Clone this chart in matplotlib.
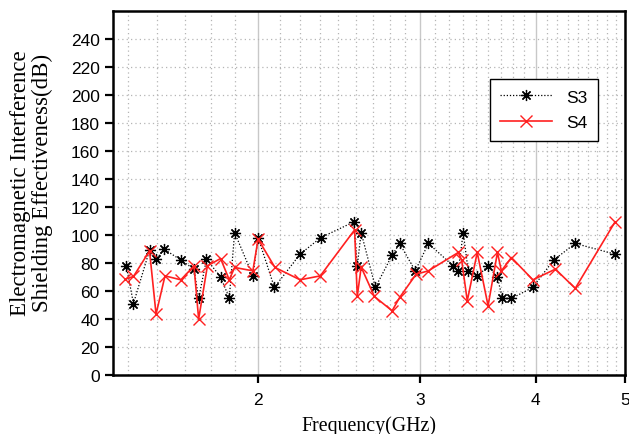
import matplotlib
matplotlib.use("Agg")
import matplotlib.pyplot as plt
from matplotlib.ticker import FixedLocator, NullFormatter, FixedFormatter

# S3 data (frequency GHz, SE dB)
s3_freq = [1.439, 1.465, 1.525, 1.550, 1.582, 1.649, 1.704, 1.724, 1.758, 1.821,
           1.861, 1.886, 1.974, 2.000, 2.083, 2.221, 2.339, 2.540, 2.562, 2.587,
           2.681, 2.795, 2.848, 2.961, 3.060, 3.256, 3.297, 3.338, 3.380, 3.457,
           3.552, 3.636, 3.681, 3.765, 3.972, 4.185, 4.416, 4.877]
s3_se = [77.8, 51.0, 89.0, 82.6, 89.7, 82.0, 75.5, 54.6, 82.6, 70.0,
         54.8, 101.6, 70.7, 98.0, 62.5, 86.2, 98.0, 109.2, 77.8, 101.6,
         62.5, 85.5, 93.8, 74.3, 93.8, 77.8, 74.3, 101.6, 74.3, 70.3,
         77.8, 69.6, 54.6, 54.6, 62.5, 82.1, 93.8, 86.2]

# S4 data
s4_freq = [1.436, 1.465, 1.525, 1.550, 1.585, 1.649, 1.704, 1.724, 1.762, 1.821,
           1.861, 1.886, 1.974, 2.000, 2.086, 2.221, 2.336, 2.545, 2.562, 2.587,
           2.674, 2.795, 2.848, 2.968, 3.060, 3.297, 3.325, 3.372, 3.457, 3.552,
           3.636, 3.672, 3.765, 3.972, 4.202, 4.416, 4.877]
s4_se = [68.4, 70.3, 88.5, 43.4, 70.7, 67.9, 77.8, 39.9, 77.8, 83.1,
         67.9, 76.7, 74.3, 96.9, 76.7, 67.9, 70.7, 103.5, 56.0, 77.0,
         56.0, 45.8, 55.3, 71.9, 74.3, 87.4, 82.0, 52.9, 87.4, 49.4,
         87.4, 74.3, 83.8, 67.9, 75.5, 61.8, 109.2]

x_ticks = [2, 3, 4, 5]
x_ticklabels = ["2", "3", "4", "5"]
y_ticks = list(range(0, 241, 20))

W, H = 629, 435
fig = plt.figure(figsize=(W / 100, H / 100), dpi=100)
ax = fig.add_axes([113 / W, 1 - 376 / H, (625 - 113) / W, (376 - 11.5) / H])

ax.set_xscale("log")
ax.set_xlim(1.392, 5.0)
ax.set_ylim(0, 260)

# minor grid positions (8 per major interval)
minor = []
for b in [1, 2, 3, 4]:
    for k in range(1, 9):
        v = b + k / 9
        if 1.392 < v < 5.0:
            minor.append(v)

ax.xaxis.set_major_locator(FixedLocator(x_ticks))
ax.xaxis.set_major_formatter(FixedFormatter(x_ticklabels))
ax.xaxis.set_minor_locator(FixedLocator(minor))
ax.xaxis.set_minor_formatter(NullFormatter())
ax.set_yticks(y_ticks)
ax.yaxis.set_minor_locator(FixedLocator([]))

ax.grid(True, which="major", axis="x", color="#c8c8c8", linestyle="-", linewidth=1.0)
ax.grid(True, which="minor", axis="x", color="#b5b5b5", linestyle=(0, (1, 2.5)), linewidth=0.9)
ax.grid(True, which="major", axis="y", color="#b5b5b5", linestyle=(0, (1, 2.5)), linewidth=0.9)
ax.set_axisbelow(True)

ax.tick_params(axis="both", which="major", direction="out", length=6, width=1.6,
               labelsize=12.5, colors="black")
ax.tick_params(axis="x", which="minor", length=0)
ax.tick_params(axis="x", pad=6)
for lab in ax.get_xticklabels() + ax.get_yticklabels():
    lab.set_fontfamily("Liberation Sans")

for s in ax.spines.values():
    s.set_linewidth(1.8)
    s.set_color("black")

ax.plot(s3_freq, s3_se, color="black", linestyle=(0, (1, 1.5)), linewidth=0.9,
        marker=(8, 2, 0), markersize=8, markeredgewidth=0.9, label="S3", zorder=3)
ax.plot(s4_freq, s4_se, color="#ff2020", linestyle="-", linewidth=1.2,
        marker="x", markersize=8, markeredgewidth=1.0, label="S4", zorder=3)

ax.set_xlabel("Frequency(GHz)", fontfamily="Liberation Serif", fontsize=14.3, labelpad=6)
ax.set_ylabel("Electromagnetic Interference\nShielding Effectiveness(dB)",
              fontfamily="Liberation Serif", fontsize=16.5, linespacing=1.05)
ax.yaxis.set_label_coords(-0.117, 0.53)

leg = ax.legend(loc="upper right", bbox_to_anchor=((598 - 113) / 512, (376 - 80) / 364.5),
                prop={"family": "Liberation Sans", "size": 12.5}, frameon=True,
                fancybox=False, edgecolor="black", framealpha=1, borderpad=0.6,
                borderaxespad=0, handlelength=3.0, labelspacing=0.6)
leg.get_frame().set_linewidth(1.0)

fig.savefig("out.png", dpi=100)
